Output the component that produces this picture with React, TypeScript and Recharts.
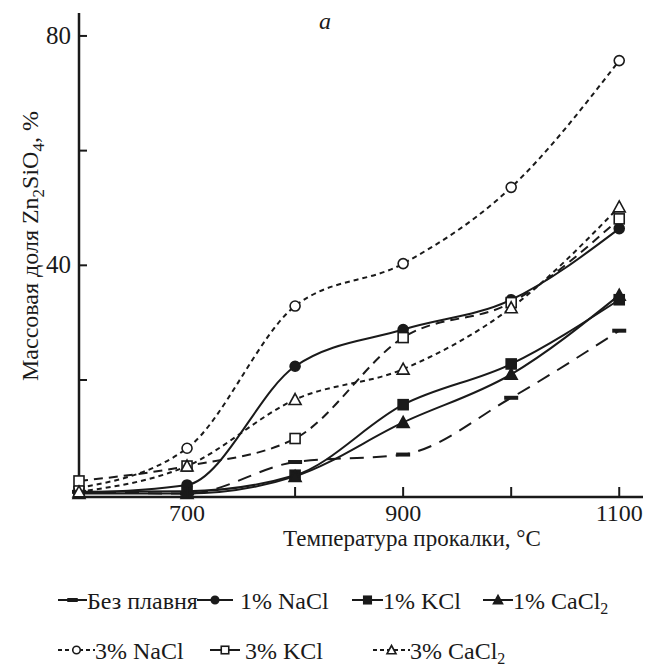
import { Customized, Legend, Line, LineChart, XAxis, YAxis } from "recharts";

const temps = [600, 700, 800, 900, 1000, 1100];
const noFlux = [0.5, 0.2, 5.7, 7.0, 16.9, 28.6];
const naCl1 = [0.3, 1.7, 22.4, 28.8, 34.0, 46.4];
const kCl1 = [0.5, 0.6, 3.4, 15.7, 22.8, 34.0];
const caCl1 = [0.2, 0.2, 3.2, 12.6, 21.0, 34.8];
const naCl3 = [1.2, 8.1, 32.9, 40.3, 53.6, 75.7];
const kCl3 = [2.4, 5.0, 9.8, 27.4, 33.5, 48.1];
const caCl3 = [0.5, 5.0, 16.6, 21.9, 32.6, 50.2];

const xTicks = [700, 800, 900, 1000, 1100];
const xLabelled = [700, 900, 1100];
const yTicks = [20, 40, 60, 80];
const yLabelled = [40, 80];

const data = temps.map((t, i) => ({
  t,
  noFlux: noFlux[i],
  naCl1: naCl1[i],
  kCl1: kCl1[i],
  caCl1: caCl1[i],
  naCl3: naCl3[i],
  kCl3: kCl3[i],
  caCl3: caCl3[i],
}));

const FONT = `"Liberation Serif", "DejaVu Serif", "Times New Roman", serif`;
const INK = "#1a1a1a";
const txt = { fontFamily: FONT };

type Shape = "dash" | "circle" | "square" | "triangle";

function Marker({ cx, cy, shape, filled, k = 1 }: { cx: number; cy: number; shape: Shape; filled: boolean; k?: number }) {
  if (cx == null || cy == null) return null;
  const fill = filled ? INK : "#fff";
  if (shape === "dash") return <rect x={cx - 7 * k} y={cy - 2} width={14 * k} height={4} fill={INK} />;
  if (shape === "circle") return <circle cx={cx} cy={cy} r={5 * k} fill={fill} stroke={INK} strokeWidth={1.6} />;
  if (shape === "square")
    return <rect x={cx - 5 * k} y={cy - 5 * k} width={10 * k} height={10 * k} fill={fill} stroke={INK} strokeWidth={1.6} />;
  return (
    <polygon
      points={`${cx},${cy - 6 * k} ${cx + 6 * k},${cy + 5 * k} ${cx - 6 * k},${cy + 5 * k}`}
      fill={fill}
      stroke={INK}
      strokeWidth={1.6}
    />
  );
}

const series = [
  { key: "noFlux", name: "Без плавня", shape: "dash" as Shape, filled: true, dash: "14 9", legendDash: undefined },
  { key: "naCl1", name: "1% NaCl", shape: "circle" as Shape, filled: true, dash: undefined, legendDash: undefined },
  { key: "kCl1", name: "1% KCl", shape: "square" as Shape, filled: true, dash: undefined, legendDash: undefined },
  { key: "caCl1", name: "1% CaCl", sub: "2", shape: "triangle" as Shape, filled: true, dash: undefined, legendDash: undefined },
  { key: "naCl3", name: "3% NaCl", shape: "circle" as Shape, filled: false, dash: "5 4", legendDash: "4 3" },
  { key: "kCl3", name: "3% KCl", shape: "square" as Shape, filled: false, dash: "9 6", legendDash: undefined },
  { key: "caCl3", name: "3% CaCl", sub: "2", shape: "triangle" as Shape, filled: false, dash: "5 4", legendDash: "4 3" },
];

// legend layout: sample start/end x, text start x, row
const legendPos = [
  { sx: 58, ex: 87, tx: 87, row: 0 },
  { sx: 197, ex: 233, tx: 240, row: 0 },
  { sx: 352, ex: 383, tx: 383, row: 0 },
  { sx: 483, ex: 513, tx: 513, row: 0 },
  { sx: 58, ex: 95, tx: 95, row: 1 },
  { sx: 210, ex: 240, tx: 245, row: 1 },
  { sx: 373, ex: 410, tx: 410, row: 1 },
];

function LegendBox() {
  const rows = [23, 73];
  return (
    <svg width={646} height={92} style={{ display: "block", overflow: "visible" }}>
      {series.map((s, i) => {
        const p = legendPos[i];
        const cy = rows[p.row];
        return (
          <g key={s.key}>
            <line
              x1={p.sx}
              x2={p.ex}
              y1={cy}
              y2={cy}
              stroke={INK}
              strokeWidth={2}
              strokeDasharray={s.legendDash}
            />
            <Marker cx={(p.sx + p.ex) / 2} cy={cy} shape={s.shape} filled={s.filled} k={0.75} />
            <text x={p.tx} y={cy + 9} style={txt} fontSize={24} fill={INK}>
              {s.name}
              {s.sub && (
                <tspan dy={5} fontSize={16}>
                  {s.sub}
                </tspan>
              )}
            </text>
          </g>
        );
      })}
    </svg>
  );
}

function XTick({ x, y, payload }: any) {
  const v = payload.value;
  return (
    <g>
      <line x1={x} x2={x} y1={y} y2={y - 10} stroke={INK} strokeWidth={2} />
      {xLabelled.includes(v) && (
        <text x={x} y={y + 24} textAnchor="middle" style={txt} fontSize={24} fill={INK}>
          {v}
        </text>
      )}
    </g>
  );
}

function YTick({ x, y, payload }: any) {
  const v = payload.value;
  return (
    <g>
      <line x1={x} x2={x + 8} y1={y} y2={y} stroke={INK} strokeWidth={2} />
      {yLabelled.includes(v) && (
        <text x={x - 8} y={y + 8} textAnchor="end" style={txt} fontSize={25} fill={INK}>
          {v}
        </text>
      )}
    </g>
  );
}

export default function App() {
  return (
    <div style={{ width: 646, height: 669, background: "#fff", fontFamily: FONT }}>
      <style>{`body{margin:0;} svg text{font-family:"Liberation Serif","DejaVu Serif","Times New Roman",serif;}`}</style>
      <LineChart width={646} height={669} data={data} margin={{ top: 13, right: 3, left: 0, bottom: 0 }}>
        <XAxis
          dataKey="t"
          type="number"
          domain={[600, 1122]}
          ticks={xTicks}
          tick={<XTick />}
          tickLine={false}
          tickSize={0}
          tickMargin={0}
          height={80}
          axisLine={{ stroke: INK, strokeWidth: 2.5 }}
          label={(props: any) => {
            const vb = props.viewBox;
            return (
              <text x={vb.x + vb.width / 2 + 51} y={vb.y + 49} textAnchor="middle" style={txt} fontSize={23} fill={INK}>
                Температура прокалки, °C
              </text>
            );
          }}
        />
        <YAxis
          type="number"
          domain={[-0.4, 84]}
          ticks={yTicks}
          tick={<YTick />}
          tickLine={false}
          tickSize={0}
          tickMargin={0}
          width={79}
          axisLine={{ stroke: INK, strokeWidth: 2.5 }}
          label={() => {
            const cx = 38;
            const cy = 246;
            return (
              <text
                x={cx}
                y={cy}
                transform={`rotate(-90 ${cx} ${cy})`}
                textAnchor="middle"
                style={txt}
                fontSize={24}
                fill={INK}
              >
                Массовая доля Zn
                <tspan dy={6} fontSize={17}>2</tspan>
                <tspan dy={-6}>SiO</tspan>
                <tspan dy={6} fontSize={17}>4</tspan>
                <tspan dy={-6}>, %</tspan>
              </text>
            );
          }}
        />
        <Legend verticalAlign="bottom" content={() => <LegendBox />} wrapperStyle={{ left: 0, bottom: 0, width: 646, height: 92 }} />
        {series.map((s) => (
          <Line
            key={s.key}
            dataKey={s.key}
            name={s.name}
            type="monotone"
            stroke={INK}
            strokeWidth={2}
            strokeDasharray={s.dash}
            isAnimationActive={false}
            dot={(p: any) => <Marker key={`${s.key}-${p.index}`} cx={p.cx} cy={p.cy} shape={s.shape} filled={s.filled} />}
            activeDot={false}
          />
        ))}
        <Customized
          component={() => (
            <text x={325} y={29} textAnchor="middle" style={txt} fontStyle="italic" fontSize={24} fill={INK}>
              a
            </text>
          )}
        />
      </LineChart>
    </div>
  );
}
